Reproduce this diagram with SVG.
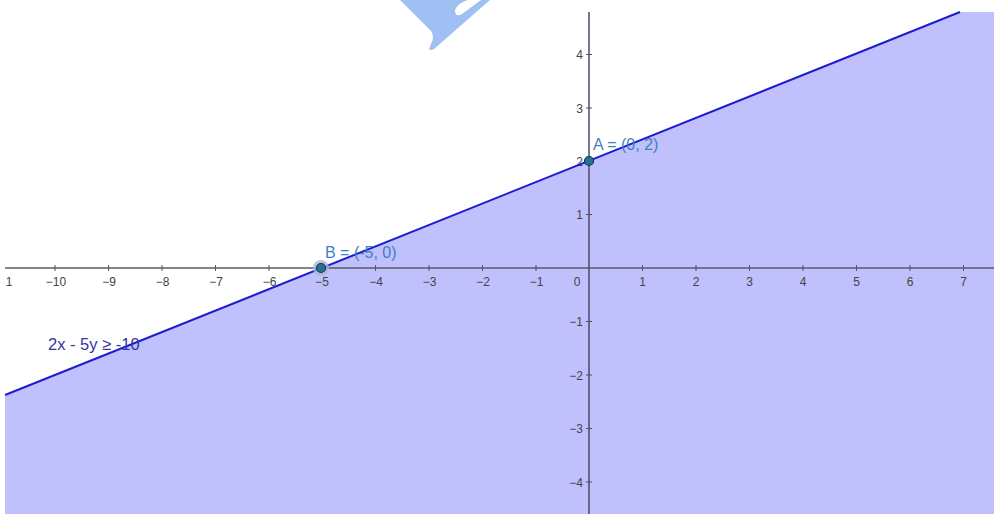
<svg xmlns="http://www.w3.org/2000/svg" width="994" height="514" viewBox="0 0 994 514">
<style>
.tick{stroke:#555;stroke-width:1}
.lbl{font-family:"Liberation Sans",Arial,sans-serif;font-size:12px;fill:#444}
.pt{font-family:"Liberation Sans",Arial,sans-serif;font-size:16px;fill:#3f7fc4}
</style>
<rect width="994" height="514" fill="#ffffff"/>
<g id="watermark">
<path d="M400,0 L431,31 Q435,37 431,44 L429,49 Q431,51 434,49 L490,0 L481,0 L462,14 Q455,18 455,10 Q458,3 468,0 Z" fill="#a0bff3"/>
</g>
<g id="region">
<polygon points="5,395 960,12 994,12 994,514 5,514" fill="#c0c0fd"/>
</g>
<g id="axes">
<line x1="5" y1="268" x2="994" y2="268" stroke="#5a5a66" stroke-width="1.5"/>
<line x1="589" y1="12" x2="589" y2="514" stroke="#4a4a66" stroke-width="1.5"/>
<g class="tick">
<line x1="55" y1="265" x2="55" y2="271"/><line x1="108.5" y1="265" x2="108.5" y2="271"/><line x1="162" y1="265" x2="162" y2="271"/><line x1="215.5" y1="265" x2="215.5" y2="271"/><line x1="269" y1="265" x2="269" y2="271"/><line x1="375.5" y1="265" x2="375.5" y2="271"/><line x1="429" y1="265" x2="429" y2="271"/><line x1="482.5" y1="265" x2="482.5" y2="271"/><line x1="536" y1="265" x2="536" y2="271"/><line x1="642.5" y1="265" x2="642.5" y2="271"/><line x1="696" y1="265" x2="696" y2="271"/><line x1="749.5" y1="265" x2="749.5" y2="271"/><line x1="803" y1="265" x2="803" y2="271"/><line x1="856.5" y1="265" x2="856.5" y2="271"/><line x1="910" y1="265" x2="910" y2="271"/><line x1="963.5" y1="265" x2="963.5" y2="271"/>
<line x1="586" y1="54.5" x2="592" y2="54.5"/><line x1="586" y1="108" x2="592" y2="108"/><line x1="586" y1="214.5" x2="592" y2="214.5"/><line x1="586" y1="321.5" x2="592" y2="321.5"/><line x1="586" y1="375" x2="592" y2="375"/><line x1="586" y1="428.5" x2="592" y2="428.5"/><line x1="586" y1="482" x2="592" y2="482"/>
</g>
<g class="lbl" text-anchor="middle">
<text x="9" y="286">1</text><text x="56" y="286">−10</text><text x="109" y="286">−9</text><text x="162.5" y="286">−8</text><text x="216" y="286">−7</text><text x="269.5" y="286">−6</text><text x="322" y="286">−5</text><text x="376" y="286">−4</text><text x="429.5" y="286">−3</text><text x="483" y="286">−2</text><text x="536.5" y="286">−1</text><text x="577" y="286">0</text><text x="642.5" y="286">1</text><text x="696" y="286">2</text><text x="749.5" y="286">3</text><text x="803" y="286">4</text><text x="856.5" y="286">5</text><text x="910" y="286">6</text><text x="963.5" y="286">7</text>
</g>
<g class="lbl" text-anchor="end">
<text x="583" y="59">4</text><text x="583" y="112.5">3</text><text x="583" y="165.5">2</text><text x="583" y="219">1</text><text x="583" y="326">−1</text><text x="583" y="379.5">−2</text><text x="583" y="433">−3</text><text x="583" y="486.5">−4</text>
</g>
</g>
<g id="connectors">
<line x1="5" y1="395" x2="960" y2="12" stroke="#1c1cd0" stroke-width="2"/>
</g>
<g id="pointA">
<circle cx="589" cy="161" r="4.5" fill="#2a6f8f" stroke="#123a55" stroke-width="1.2"/>
<text class="pt" x="593" y="150">A = (0, 2)</text>
</g>
<g id="pointB">
<circle cx="321" cy="268" r="8" fill="#a8b4dc" opacity="0.8"/>
<circle cx="321" cy="268" r="4.5" fill="#2a6f8f" stroke="#123a55" stroke-width="1.2"/>
<text class="pt" x="325" y="258">B = (-5, 0)</text>
</g>
<g id="ineq">
<text x="48" y="350" font-family="Liberation Sans, Arial, sans-serif" font-size="16.5" fill="#3434a4">2x - 5y ≥ -10</text>
</g>
</svg>
